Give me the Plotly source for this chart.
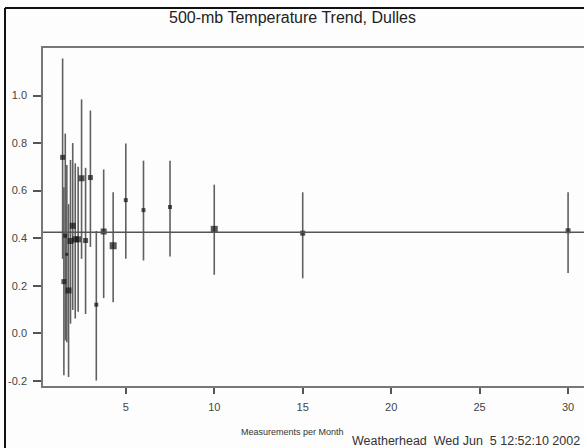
import plotly.graph_objects as go

# ---- data ----
meas_per_month = [30, 15, 10, 7.5, 6, 5, 4.286, 3.75, 3.333, 3.0, 2.727, 2.5,
                  2.308, 2.143, 2.0, 1.875, 1.765, 1.667, 1.579, 1.5, 1.429]
trend = [0.431, 0.421, 0.437, 0.531, 0.518, 0.560, 0.368, 0.428, 0.120, 0.655, 0.390, 0.652,
         0.395, 0.395, 0.452, 0.388, 0.180, 0.332, 0.410, 0.217, 0.740]
trend_low = [0.253, 0.231, 0.246, 0.323, 0.306, 0.313, 0.130, 0.148, -0.199, 0.363, 0.081, 0.313,
             0.090, 0.062, 0.098, 0.040, -0.184, -0.038, -0.030, -0.177, 0.313]
trend_high = [0.593, 0.593, 0.625, 0.726, 0.726, 0.798, 0.593, 0.689, 0.430, 0.937, 0.696, 0.984,
              0.700, 0.715, 0.800, 0.729, 0.543, 0.708, 0.840, 0.614, 1.156]
mean_trend = 0.425

y_ticks = [-0.2, 0.0, 0.2, 0.4, 0.6, 0.8, 1.0]
y_tick_labels = ["-0.2", "0.0", "0.2", "0.4", "0.6", "0.8", "1.0"]
x_ticks = [5, 10, 15, 20, 25, 30]
x_tick_labels = ["5", "10", "15", "20", "25", "30"]

title_text = "500-mb Temperature Trend, Dulles"
x_title = "Measurements per Month"
stamp = "Weatherhead\u00a0\u00a0Wed\u00a0Jun\u00a0\u00a05\u00a012:52:10\u00a02002"

# ---- styles ----
marker_sizes = [5, 5, 7, 4, 4, 4, 7, 6, 4, 5, 5, 6, 6, 6, 6, 6, 6, 3, 4, 5, 5]
FONT = "Liberation Sans, Arial, sans-serif"

err_plus = [h - v for h, v in zip(trend_high, trend)]
err_minus = [v - l for v, l in zip(trend, trend_low)]

fig = go.Figure()
fig.add_trace(go.Scatter(
    x=meas_per_month, y=trend, mode="markers",
    marker=dict(symbol="square", size=marker_sizes, color="#111111", line=dict(width=0)),
    error_y=dict(type="data", symmetric=False, array=err_plus, arrayminus=err_minus,
                 color="#606060", thickness=1.6, width=0),
    showlegend=False, hoverinfo="skip",
))

W, H = 584, 448
L, R, T, B = 43, 0, 48, 62
pw, ph = W - L - R, H - T - B

def px_x(p):
    return (p - L) / pw

def px_y(p):
    return (H - B - p) / ph

fig.add_shape(type="line", xref="paper", yref="y", x0=0, x1=1, y0=mean_trend, y1=mean_trend,
              line=dict(color="#555555", width=1.5))
# outer frame of the figure
fig.add_shape(type="line", xref="paper", yref="paper", x0=px_x(5), x1=px_x(5),
              y0=px_y(8), y1=px_y(H + 5), line=dict(color="#111111", width=2))
fig.add_shape(type="line", xref="paper", yref="paper", x0=px_x(5), x1=px_x(W + 5),
              y0=px_y(8), y1=px_y(8), line=dict(color="#111111", width=2))

fig.add_annotation(text=title_text, xref="paper", yref="paper", x=px_x(292), y=px_y(17),
                   xanchor="center", yanchor="middle", showarrow=False,
                   font=dict(family=FONT, size=16, color="#222222"))
fig.add_annotation(text=x_title, xref="paper", yref="paper", x=px_x(292), y=px_y(432),
                   xanchor="center", yanchor="middle", showarrow=False,
                   font=dict(family=FONT, size=9, color="#333333"))
fig.add_annotation(text=stamp, xref="paper", yref="paper", x=px_x(582), y=px_y(441),
                   xanchor="right", yanchor="middle", showarrow=False,
                   font=dict(family=FONT, size=12.5, color="#333333"))

fig.update_xaxes(range=[0.32, 30.9], tickvals=x_ticks, ticktext=x_tick_labels,
                 showgrid=False, zeroline=False, showline=True, linecolor="#777777", linewidth=1.5,
                 mirror=True, ticks="outside", ticklen=6, tickwidth=1.5, tickcolor="#555555",
                 ticklabelstandoff=4,
                 tickfont=dict(family=FONT, size=11, color="#444444"))
fig.update_yaxes(range=[-0.222, 1.2], tickvals=y_ticks, ticktext=y_tick_labels,
                 showgrid=False, zeroline=False, showline=True, linecolor="#777777", linewidth=1.5,
                 ticks="outside", ticklen=8, tickwidth=1.5, tickcolor="#555555",
                 ticklabelstandoff=4,
                 tickfont=dict(family=FONT, size=11, color="#444444"))

fig.update_layout(width=W, height=H, margin=dict(l=L, r=R, t=T, b=B),
                  paper_bgcolor="#fdfdfd", plot_bgcolor="#fdfdfd", showlegend=False)

fig.write_html("out.html", config={"displayModeBar": False},
               post_script="document.body.style.margin='0';document.body.style.overflow='hidden';")
